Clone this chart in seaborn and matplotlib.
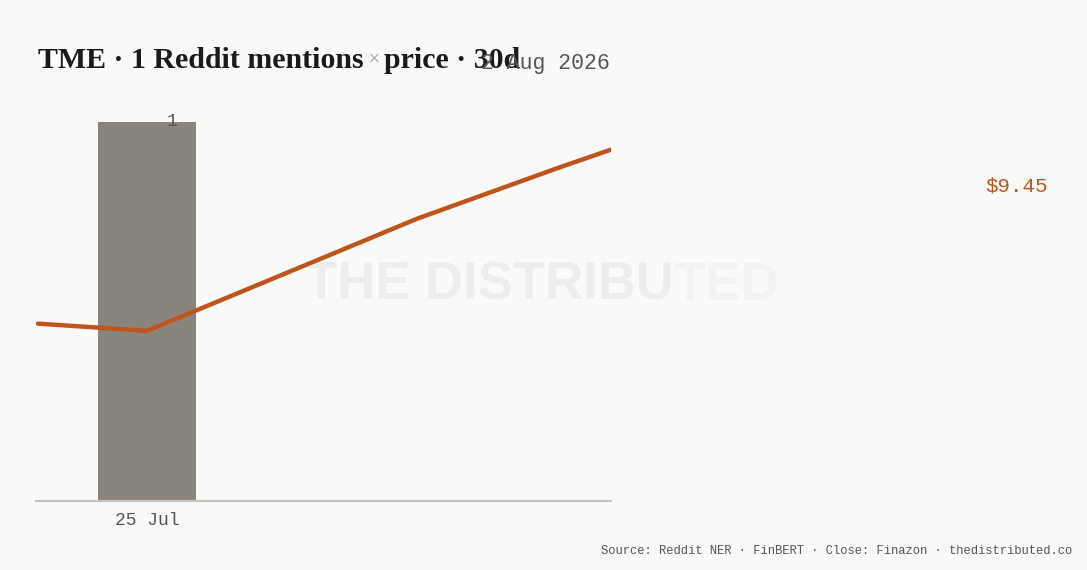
import numpy as np
import matplotlib
matplotlib.use('Agg')
import matplotlib.pyplot as plt
import seaborn as sns

# 数据
mention_day = [0]            # 25 Jul 的偏移天数
mentions = [1]
tick_day = [0]
tick_labels = ['25 Jul']
price_day = [-1.0, 0.0, 2.48, 3.77, 4.25]
price = [8.97, 8.95, 9.26, 9.40, 9.45]
last_price_label = '$9.45'
title_left = 'TME · 1 Reddit mentions'
title_mid = '×'
title_right = 'price · 30d'
date_label = '2 Aug 2026'
source_text = 'Source: Reddit NER · FinBERT · Close: Finazon · thedistributed.co'

BG = '#fafaf8'
BAR = '#8a857c'
LINE = '#c0541e'
MONO = ['Liberation Mono', 'DejaVu Sans Mono']
SERIF = ['Liberation Serif', 'DejaVu Serif']

sns.set_theme(style='white')
plt.rcParams['font.family'] = ['DejaVu Sans']

W, H = 1087, 570
fig = plt.figure(figsize=(W / 100, H / 100), dpi=100, facecolor=BG)
r = fig.canvas.get_renderer()

def px_box(x0, x1, y_top, y_bot):
    return [x0 / W, 1 - y_bot / H, (x1 - x0) / W, (y_bot - y_top) / H]

# 水印（右端渐淡）
wm = fig.text(305 / W, 1 - 286 / H, 'THE DISTRIBU', family=['Liberation Sans'], weight='bold',
              fontsize=38, color='#ededed', va='center', ha='left', zorder=-2)
wbb = wm.get_window_extent(r)
fig.text(wbb.x1 / W, 1 - 286 / H, 'TED', family=['Liberation Sans'], weight='bold',
         fontsize=38, color='#f3f3f1', va='center', ha='left', zorder=-2)

ax = fig.add_axes(px_box(36, 611, 122, 501))
ax.set_facecolor('none')
sns.barplot(x=mention_day, y=mentions, native_scale=True, width=0.9, color=BAR,
            saturation=1, ax=ax, zorder=1)
ax.set_ylim(0, 1)
ax.set_xlim(-1.018, 4.257)
for p in ax.patches:
    p.set_edgecolor('none')

ax2 = ax.twinx()
sns.lineplot(x=price_day, y=price, color=LINE, linewidth=3.2, ax=ax2, zorder=3)
ax2.set_ylim(8.480, 9.527)
ax2.set_xlim(-1.018, 4.257)

for a in (ax, ax2):
    for s in a.spines.values():
        s.set_visible(False)
    a.set_yticks([])
    a.set_ylabel('')
    a.set_xlabel('')
ax.spines['bottom'].set_visible(True)
ax.spines['bottom'].set_color('#c4c4c2')
ax.spines['bottom'].set_linewidth(1.6)
ax.set_xticks(tick_day)
ax.set_xticklabels(tick_labels, family=MONO, fontsize=13, color='#555555')
ax.tick_params(axis='x', length=0, pad=8)

# 柱子标注
ax.text(mention_day[0] + 0.23, mentions[0], str(mentions[0]), family=MONO, fontsize=13,
        color='#555555', ha='center', va='center')

# 标题（分段绘制）
t1 = fig.text(38 / W, 1 - 60 / H, title_left, family=SERIF, weight='bold', fontsize=21.5,
              color='#1a1a1a', va='center', ha='left')
bb = t1.get_window_extent(r)
t2 = fig.text((bb.x1 + 4) / W, 1 - 59 / H, title_mid, family=['DejaVu Sans'], fontsize=11,
              color='#aaaaaa', va='center', ha='left')
bb2 = t2.get_window_extent(r)
fig.text((bb2.x1 + 4) / W, 1 - 60 / H, title_right, family=SERIF, weight='bold', fontsize=21.5,
         color='#1a1a1a', va='center', ha='left')
fig.text(610 / W, 1 - 63 / H, date_label, family=MONO, fontsize=15.5, color='#555555',
         va='center', ha='right')

# 最新价格
fig.text(1048 / W, 1 - 186 / H, last_price_label, family=MONO, fontsize=15, color=LINE,
         va='center', ha='right')

# 来源
fig.text(1072 / W, 1 - 551 / H, source_text, family=MONO, fontsize=8.7, color='#555555',
         va='center', ha='right')

fig.savefig('out.png', dpi=100, facecolor=BG)
